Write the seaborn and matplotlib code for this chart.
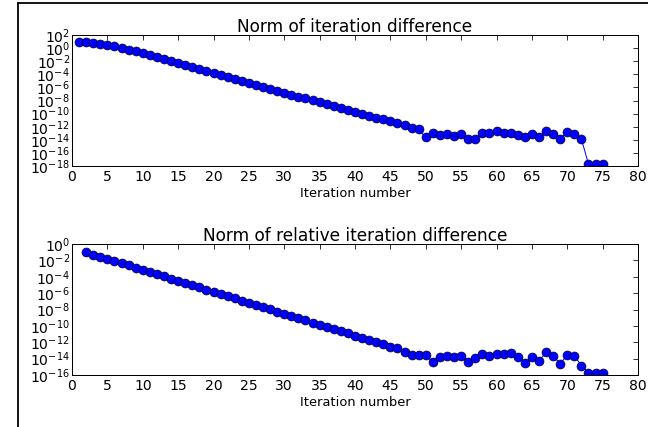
import numpy as np
import pandas as pd
import matplotlib
matplotlib.use("Agg")
import matplotlib.pyplot as plt
import seaborn as sns
from matplotlib.lines import Line2D
from matplotlib.ticker import FixedLocator, LogFormatterSciNotation, NullLocator

# ---- data (log10 of values) ----
iter_abs = list(range(1, 76))
log_abs = [0.98, 0.93, 0.83, 0.67, 0.47, 0.27, 0.02, -0.24, -0.46, -0.70,
           -1.00, -1.31, -1.62, -1.93, -2.24, -2.55, -2.86, -3.17, -3.48, -3.78,
           -4.09, -4.40, -4.71, -5.02, -5.32, -5.63, -5.92, -6.22, -6.51, -6.81,
           -7.10, -7.40, -7.69, -7.98, -8.28, -8.57, -8.87, -9.16, -9.46, -9.75,
           -10.04, -10.34, -10.63, -10.90, -11.13, -11.48, -11.79, -12.15, -12.40, -13.62,
           -13.00, -13.27, -13.17, -13.37, -13.17, -13.83, -13.83, -12.91, -13.00, -12.70,
           -13.00, -12.91, -13.32, -13.57, -13.17, -13.57, -12.70, -13.10, -13.83, -12.86,
           -13.10, -13.88, -17.70, -17.70, -17.70]

iter_rel = list(range(2, 76))
log_rel = [-0.94, -1.30, -1.55, -1.79, -2.08, -2.36, -2.60, -2.89,
           -3.16, -3.43, -3.69, -3.96, -4.23, -4.50, -4.77, -5.03, -5.30, -5.57,
           -5.84, -6.11, -6.37, -6.64, -6.91, -7.18, -7.45, -7.71, -7.98, -8.25,
           -8.52, -8.79, -9.05, -9.32, -9.59, -9.86, -10.13, -10.39, -10.66, -10.93,
           -11.20, -11.47, -11.73, -12.00, -12.27, -12.54, -12.74, -13.15, -13.60, -13.52,
           -13.55, -14.45, -13.76, -13.63, -13.76, -13.63, -14.37, -13.96, -13.43, -13.68,
           -13.39, -13.47, -13.35, -13.76, -14.57, -13.76, -14.29, -13.23, -13.63, -14.65,
           -13.52, -13.63, -14.86, -15.70, -15.70, -15.70]

titles = ["Norm of iteration difference", "Norm of relative iteration difference"]
xlabel = "Iteration number"
xticks = list(range(0, 81, 5))

df_abs = pd.DataFrame({"it": iter_abs, "val": 10.0 ** np.array(log_abs)})
df_rel = pd.DataFrame({"it": iter_rel, "val": 10.0 ** np.array(log_rel)})

sns.set_style("white")
plt.rcParams["font.family"] = ["DejaVu Sans"]
plt.rcParams["mathtext.fontset"] = "dejavusans"
plt.rcParams["text.color"] = "black"
plt.rcParams["axes.labelcolor"] = "black"

fig = plt.figure(figsize=(9.0, 427 / 72), dpi=72)
fig.patch.set_facecolor("white")

left, width = 72 / 648, (638 - 72) / 648
ax1 = fig.add_axes([left, 1 - 166 / 427, width, (166 - 35) / 427])
ax2 = fig.add_axes([left, 1 - 375 / 427, width, (375 - 244) / 427])

specs = [(ax1, df_abs, (1e-18, 1e2), range(-18, 3, 2)),
         (ax2, df_rel, (1e-16, 1e0), range(-16, 1, 2))]

for (ax, df, ylim, exps), title in zip(specs, titles):
    ax.set_yscale("log")
    sns.lineplot(data=df, x="it", y="val", ax=ax, color="blue", marker="o",
                 markersize=9, markeredgecolor="black", markeredgewidth=0.6,
                 linewidth=1.0)
    ax.set_xlim(0, 80)
    ax.set_ylim(*ylim)
    ax.set_xticks(xticks)
    ax.yaxis.set_major_locator(FixedLocator([10.0 ** e for e in exps]))
    ax.yaxis.set_major_formatter(LogFormatterSciNotation())
    ax.yaxis.set_minor_locator(NullLocator())
    ax.tick_params(direction="in", top=True, right=True, length=5, width=0.8,
                   labelsize=14, colors="black", labelcolor="black", pad=4)
    ax.tick_params(axis="y", pad=2)
    for s in ax.spines.values():
        s.set_color("black")
        s.set_linewidth(1.0)
    ax.set_title(title, fontsize=17, pad=3, color="black")
    ax.set_xlabel(xlabel, fontsize=13, labelpad=3, color="black")
    ax.set_ylabel("")

# figure frame (screenshot border)
fig.add_artist(Line2D([18 / 648, 18 / 648], [-0.05, 1 - 3 / 427],
                      transform=fig.transFigure, color="black", linewidth=1.8))
fig.add_artist(Line2D([18 / 648, 1.05], [1 - 3 / 427, 1 - 3 / 427],
                      transform=fig.transFigure, color="black", linewidth=1.8))

fig.savefig("out.png", dpi=72, facecolor="white")
